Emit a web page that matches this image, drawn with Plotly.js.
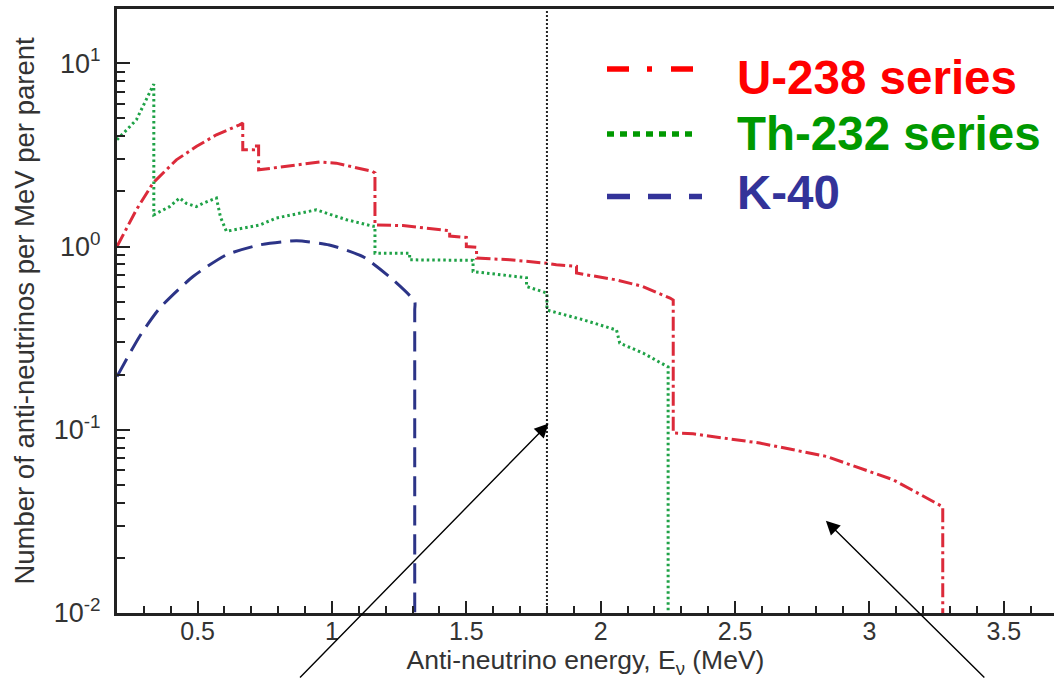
<!DOCTYPE html>
<html><head><meta charset="utf-8">
<script src="https://cdn.plot.ly/plotly-3.0.1.min.js"></script>
<style>html,body{margin:0;padding:0;background:#fff}</style>
</head><body><div id="chart" style="width:1054px;height:679px"></div>
<script>
// ---- data ----
const seriesNames = ['U-238 series', 'Th-232 series', 'K-40'];

const uEnergy = [0.200, 0.272, 0.334, 0.421, 0.495, 0.570, 0.656, 0.668, 0.668, 0.708, 0.708, 0.727, 0.727,
  0.830, 0.954, 1.016, 1.091, 1.150, 1.160, 1.160, 1.264, 1.413, 1.438, 1.438, 1.500, 1.500, 1.538, 1.538,
  1.662, 1.800, 1.835, 1.910, 1.910, 2.059, 2.157, 2.258, 2.270, 2.270, 2.344, 2.592, 2.840, 3.089, 3.269, 3.273, 3.273];
const uFlux = [1.00, 1.585, 2.22, 2.97, 3.51, 4.07, 4.61, 4.72, 3.37, 3.37, 3.54, 3.54, 2.62,
  2.75, 2.89, 2.85, 2.68, 2.57, 2.52, 1.31, 1.30, 1.23, 1.22, 1.14, 1.12, 1.00, 0.99, 0.865,
  0.846, 0.81, 0.795, 0.78, 0.716, 0.657, 0.605, 0.523, 0.51, 0.096, 0.095, 0.0846, 0.0715, 0.0533, 0.0382, 0.038, 0.005];

const thEnergy = [0.200, 0.272, 0.337, 0.337, 0.396, 0.433, 0.458, 0.495, 0.520, 0.570, 0.585, 0.607, 0.731,
  0.793, 0.942, 1.054, 1.153, 1.160, 1.160, 1.289, 1.289, 1.525, 1.525, 1.724, 1.724, 1.800, 1.800,
  1.935, 2.059, 2.071, 2.158, 2.251, 2.251];
const thFlux = [3.82, 4.91, 7.7, 1.49, 1.65, 1.84, 1.72, 1.65, 1.72, 1.84, 1.45, 1.21, 1.31,
  1.43, 1.585, 1.40, 1.29, 1.29, 0.92, 0.92, 0.846, 0.84, 0.73, 0.675, 0.605, 0.557, 0.45,
  0.398, 0.35, 0.297, 0.262, 0.22, 0.005];

const kEnergy = [0.200, 0.284, 0.359, 0.483, 0.607, 0.731, 0.868, 0.990, 1.115, 1.227, 1.308, 1.308, 1.308];
const kFlux = [0.195, 0.323, 0.461, 0.686, 0.90, 1.02, 1.074, 1.02, 0.88, 0.658, 0.50, 0.45, 0.005];

const thresholdEnergy = 1.8;   // dotted vertical line

// arrow tips [energy, value]
const arrowTips = [[1.806, 0.108], [2.838, 0.0319]];

const xTickVals = [0.5, 1, 1.5, 2, 2.5, 3, 3.5];
const xTickText = ['0.5', '1', '1.5', '2', '2.5', '3', '3.5'];
const yTickVals = [0.01, 0.1, 1, 10];
const yTickText = ['10<sup>-2</sup>', '10<sup>-1</sup>', '10<sup>0</sup>', '10<sup>1</sup>'];

const xTitle = 'Anti-neutrino energy, E<sub>ν</sub> (MeV)';
const yTitle = 'Number of anti-neutrinos per MeV per parent';

// ---- styling ----
const curveColors = ['#dc2a3a', '#1fa247', '#2c3487'];
const legendColors = ['#ff0000', '#009900', '#333399'];
const curveDash = ['14px,4px,3px,4px', '2.5px,3px', '20px,9px'];
const legendDash = ['22px,18px,5px,19px', '7px,6px', '23px,18px'];

const W = 1054, H = 679, L = 117, R = 0, T = 9, B = 66;
const pw = W - L - R, ph = H - T - B;
const px2paper = p => (p - L) / pw;
const py2paper = p => (H - B - p) / ph;

const traces = [
  {x: uEnergy, y: uFlux, name: seriesNames[0], mode: 'lines',
   line: {color: curveColors[0], width: 3, dash: curveDash[0]}},
  {x: thEnergy, y: thFlux, name: seriesNames[1], mode: 'lines',
   line: {color: curveColors[1], width: 3, dash: curveDash[1]}},
  {x: kEnergy, y: kFlux, name: seriesNames[2], mode: 'lines',
   line: {color: curveColors[2], width: 3, dash: curveDash[2], shape: 'spline', smoothing: 0.6}}
];

// legend drawn as sample lines + coloured labels
const legendRowsY = [69, 134, 196.5];
const legendTextY = [78, 133.5, 192.5];
const legendEnd = [695, 695, 702];
const shapes = [
  {type: 'line', xref: 'x', yref: 'paper', x0: thresholdEnergy, x1: thresholdEnergy, y0: 0, y1: 1,
   line: {color: '#222', width: 2, dash: '2px,2px'}}
];
const annotations = [];
seriesNames.forEach((n, i) => {
  shapes.push({type: 'line', xref: 'paper', yref: 'paper',
    x0: px2paper(607), x1: px2paper(legendEnd[i]), y0: py2paper(legendRowsY[i]), y1: py2paper(legendRowsY[i]),
    line: {color: legendColors[i], width: 5.5, dash: legendDash[i]}});
  annotations.push({xref: 'paper', yref: 'paper', x: px2paper(735), y: py2paper(legendTextY[i]),
    xanchor: 'left', yanchor: 'middle', showarrow: false, text: '<b>' + n + '</b>',
    font: {family: 'Liberation Sans, Arial, sans-serif', size: 47.5, color: legendColors[i]}});
});
// arrows (log axis: annotation y is given in log10 units)
const arrowTails = [[-250, 281], [160, 170]];
arrowTips.forEach((t, i) => {
  annotations.push({x: t[0], y: Math.log10(t[1]), xref: 'x', yref: 'y', text: '', showarrow: true,
    arrowhead: 2, arrowsize: 2.0, arrowwidth: 1.4, arrowcolor: '#000',
    ax: arrowTails[i][0], ay: arrowTails[i][1], standoff: 0});
});

const layout = {
  width: W, height: H,
  margin: {l: L, r: R, t: T, b: B, pad: 0},
  paper_bgcolor: '#ffffff', plot_bgcolor: '#ffffff',
  showlegend: false,
  font: {family: 'Liberation Sans, Arial, sans-serif', color: '#333'},
  xaxis: {
    range: [0.2, 3.687], showgrid: false, zeroline: false,
    showline: true, linecolor: '#222', linewidth: 3, mirror: true,
    ticks: 'inside', ticklen: 12, tickwidth: 2, tickcolor: '#222',
    tickvals: xTickVals, ticktext: xTickText, tickfont: {size: 25, color: '#333'},
    ticklabelstandoff: -6,
    minor: {ticks: 'inside', ticklen: 7, tickwidth: 2, tickcolor: '#222', dtick: 0.1, tick0: 0.2, showgrid: false},
    title: {text: xTitle, font: {size: 26.5, color: '#333'}, standoff: 0}
  },
  yaxis: {
    type: 'log', range: [-2, 1.296], showgrid: false, zeroline: false,
    showline: true, linecolor: '#222', linewidth: 3, mirror: false,
    ticks: 'inside', ticklen: 13, tickwidth: 2, tickcolor: '#222',
    tickvals: yTickVals, ticktext: yTickText, tickfont: {size: 27, color: '#333'},
    ticklabelstandoff: 8,
    minor: {ticks: 'inside', ticklen: 8, tickwidth: 2, tickcolor: '#222', dtick: 'D1', showgrid: false},
    title: {text: yTitle, font: {size: 27.5, color: '#333'}, standoff: 12}
  },
  shapes: shapes,
  annotations: annotations
};

Plotly.newPlot('chart', traces, layout, {displayModeBar: false, staticPlot: true});
</script>
</body></html>
